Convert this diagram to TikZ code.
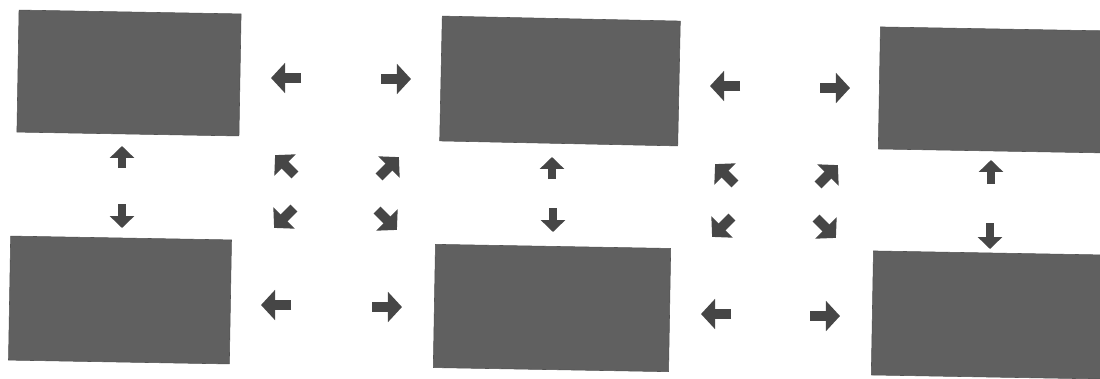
\documentclass[tikz,border=0pt]{standalone}
\usepackage{tikz}
\usetikzlibrary{arrows.meta}
\definecolor{panel}{RGB}{96,96,96}
\definecolor{glyph}{RGB}{70,70,70}
\tikzset{
  panelbox/.style = {rectangle,fill=panel,draw=panel!85!black,inner sep=0pt,rotate=-1},
  bolddir/.style  = {-{Triangle[length=10pt,width=21pt]},line width=7pt,glyph},
  vertdir/.style  = {-{Triangle[length=8.5pt,width=17pt]},line width=6pt,glyph}
}
% x, y, angle, length (pixel units, y pointing down)
\newcommand{\dirarrow}[5][bolddir]{%
  \draw[#1] (#2,#3) ++(#4+180:#5/2) -- ++(#4:#5);
}

\begin{document}
\begin{tikzpicture}[x=0.025cm,y=-0.025cm]
  \useasboundingbox (0,0) rectangle (1100,378);
  \clip (0,0) rectangle (1100,378);
  % the six panels
  \node[panelbox,minimum width=5.55cm,minimum height=3.05cm] (tl) at (129,73)  {};
  \node[panelbox,minimum width=5.52cm,minimum height=3.10cm] (bl) at (120,300) {};
  \node[panelbox,minimum width=5.95cm,minimum height=3.12cm,rotate=-0.2] (tm) at (560,81) {};
  \node[panelbox,minimum width=5.88cm,minimum height=3.08cm] (bm) at (552,308) {};
  \node[panelbox,minimum width=5.88cm,minimum height=3.05cm] (tr) at (997,90)  {};
  \node[panelbox,minimum width=5.88cm,minimum height=3.10cm] (br) at (990,315) {};
  % vertical pairs
  \dirarrow[vertdir]{122}{157}{-90}{22}
  \dirarrow[vertdir]{122}{216}{90}{24}
  \dirarrow[vertdir]{552}{168}{-90}{22}
  \dirarrow[vertdir]{553}{220}{90}{24}
  \dirarrow[vertdir]{991}{172}{-90}{24}
  \dirarrow[vertdir]{990}{236}{90}{26}
  % left gap
  \dirarrow{286}{78}{180}{30}
  \dirarrow{396}{79}{0}{30}
  \dirarrow{285}{165}{-135}{28}
  \dirarrow{389}{167}{-45}{28}
  \dirarrow{284}{218}{135}{28}
  \dirarrow{387}{220}{45}{28}
  \dirarrow{276}{305}{180}{30}
  \dirarrow{387}{307}{0}{30}
  % right gap
  \dirarrow{725}{86}{180}{30}
  \dirarrow{835}{88}{0}{30}
  \dirarrow{725}{174}{-135}{28}
  \dirarrow{828}{175}{-45}{28}
  \dirarrow{722}{227}{135}{28}
  \dirarrow{826}{228}{45}{28}
  \dirarrow{716}{314}{180}{30}
  \dirarrow{825}{316}{0}{30}
\end{tikzpicture}
\end{document}
